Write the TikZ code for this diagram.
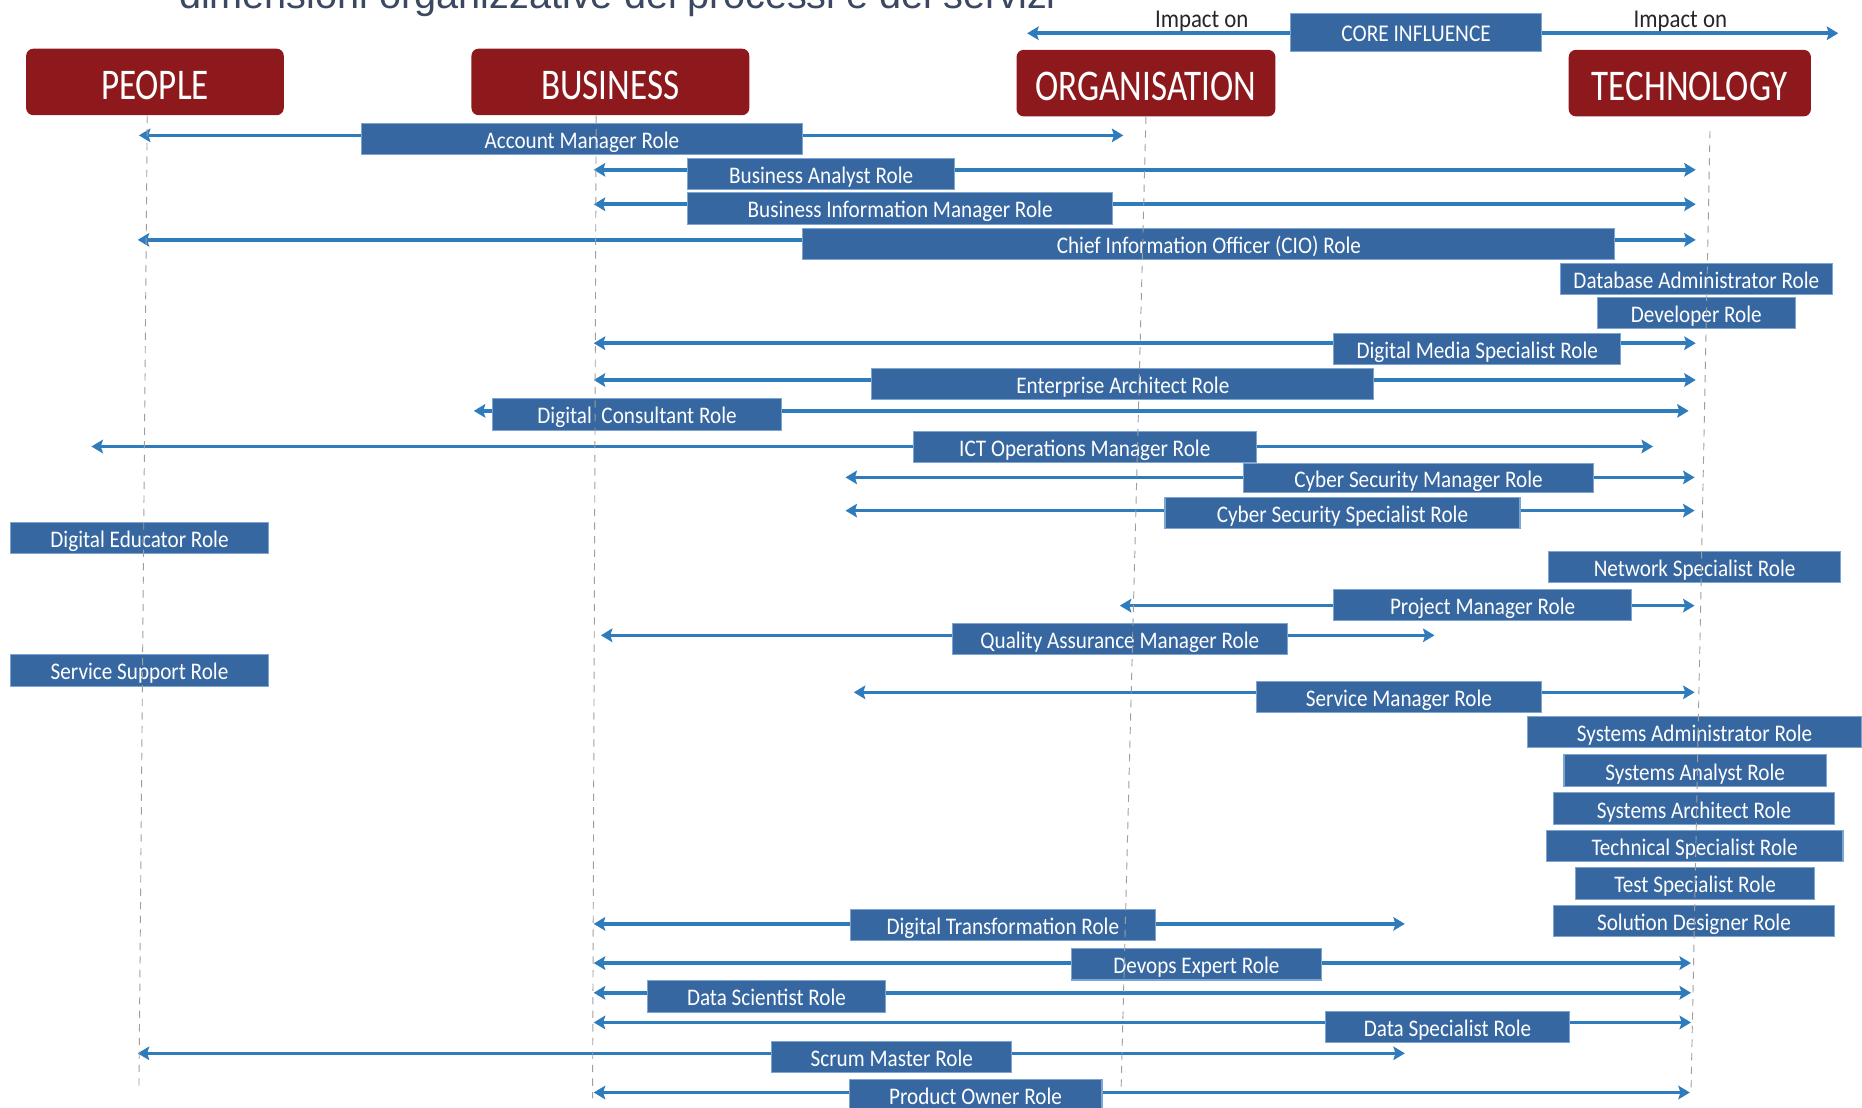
\documentclass[tikz,border=0pt]{standalone}
\usepackage{fontspec}
\setmainfont{Carlito}[FakeStretch=0.89]
\newfontfamily\headfont{Carlito}[FakeStretch=0.8]
\newfontfamily\titlefont{Liberation Sans}
\usepackage{tikz}
\usetikzlibrary{shapes.geometric, arrows.meta}
\definecolor{headred}{RGB}{142,25,28}
\definecolor{rolefill}{RGB}{55,103,161}
\definecolor{roleedge}{RGB}{125,165,210}
\definecolor{arrowblue}{RGB}{47,124,189}
\definecolor{titlegray}{RGB}{59,72,98}
\tikzstyle{dimension} = [rectangle, rounded corners=0.12cm, minimum height=1.12cm, text centered, text height=17pt, text depth=0pt, fill=headred, text=white, font=\headfont\fontsize{21}{22}\selectfont]
\tikzstyle{role} = [rectangle, minimum height=0.53cm, inner sep=0pt, text centered, text height=9pt, text depth=0pt, draw=roleedge, line width=0.5pt, fill=rolefill, text=white, font=\fontsize{11.4}{13}\selectfont]
\tikzstyle{arrow} = [line width=1.7pt, draw=arrowblue, -{Stealth[length=5.5pt, width=6.5pt, inset=1pt]}]
\tikzstyle{lifeline} = [draw=gray!75, line width=0.45pt, dash pattern=on 3.5pt off 3pt]
\tikzstyle{impact} = [text=black!85, text height=9pt, text depth=0pt, font=\fontsize{12.3}{14}\selectfont]

\begin{document}
\begin{tikzpicture}[x=0.02cm, y=-0.02cm]
		\clip (0,0) rectangle (1568,933);
		\node (title) [anchor=base, text=titlegray, font=\titlefont\fontsize{19}{22}\selectfont] at (520,7) {dimensioni organizzative dei processi e dei servizi};
		% dimensions
		\node (people) [dimension, minimum width=4.34cm] at (130.5,69) {PEOPLE};
		\node (business) [dimension, minimum width=4.68cm] at (514,69) {BUSINESS};
		\node (organisation) [dimension, minimum width=4.36cm] at (965,70) {ORGANISATION};
		\node (technology) [dimension, minimum width=4.08cm] at (1423,70) {TECHNOLOGY};
		% core influence
		\node (core) [role, minimum width=4.22cm, minimum height=0.64cm, font=\fontsize{11.5}{13}\selectfont] at (1192.5,27) {CORE INFLUENCE};
		\node (impL) [impact] at (1012,15) {Impact on};
		\node (impR) [impact] at (1415,15) {Impact on};
		\coordinate (coreL) at (865,28);
		\coordinate (coreR) at (1548,28);
		\draw [arrow] (core.west |- coreL) -- (coreL);
		\draw [arrow] (core.east |- coreR) -- (coreR);
		% roles
		\node (acc) [role, minimum width=7.44cm] at (490,117) {Account Manager Role};
		\node (ba) [role, minimum width=4.50cm] at (691.5,146.5) {Business Analyst Role};
		\node (bim) [role, minimum width=7.16cm] at (758,175.5) {Business Information Manager Role};
		\node (cio) [role, minimum width=13.68cm] at (1018,205.5) {Chief Information Officer (CIO) Role};
		\node (dba) [role, minimum width=4.58cm] at (1428.5,235) {Database Administrator Role};
		\node (dev) [role, minimum width=3.34cm] at (1428.5,263.5) {Developer Role};
		\node (dms) [role, minimum width=4.84cm] at (1244,294) {Digital Media Specialist Role};
		\node (ea) [role, minimum width=8.46cm] at (945.5,323.5) {Enterprise Architect Role};
		\node (dc) [role, minimum width=4.86cm] at (536.5,349) {Digital\ \ Consultant Role};
		\node (ict) [role, minimum width=5.78cm] at (913.5,376.5) {ICT Operations Manager Role};
		\node (csm) [role, minimum width=5.90cm, minimum height=0.48cm] at (1194.5,402.5) {Cyber Security Manager Role};
		\node (css) [role, minimum width=5.98cm] at (1130.5,432) {Cyber Security Specialist Role};
		\node (de) [role, minimum width=4.34cm] at (117.5,453) {Digital Educator Role};
		\node (ns) [role, minimum width=4.92cm] at (1427,477.5) {Network Specialist Role};
		\node (pm) [role, minimum width=5.02cm] at (1248.5,509.5) {Project Manager Role};
		\node (qam) [role, minimum width=5.64cm] at (943,538) {Quality Assurance Manager Role};
		\node (ss) [role, minimum width=4.34cm] at (117.5,564.5) {Service Support Role};
		\node (sm) [role, minimum width=4.80cm] at (1178,587) {Service Manager Role};
		\node (sa) [role, minimum width=5.64cm] at (1427,616.5) {Systems Administrator Role};
		\node (san) [role, minimum width=4.42cm] at (1427.5,649) {Systems Analyst Role};
		\node (sar) [role, minimum width=4.74cm] at (1426.5,681) {Systems Architect Role};
		\node (ts) [role, minimum width=5.00cm] at (1427,712.5) {Technical Specialist Role};
		\node (tst) [role, minimum width=4.02cm] at (1427.5,744) {Test Specialist Role};
		\node (sd) [role, minimum width=4.74cm] at (1426.5,775.5) {Solution Designer Role};
		\node (dt) [role, minimum width=5.14cm] at (844.5,779) {Digital Transformation Role};
		\node (doe) [role, minimum width=4.22cm] at (1007.5,812) {Devops Expert Role};
		\node (dsc) [role, minimum width=4.02cm] at (645.5,839) {Data Scientist Role};
		\node (dsp) [role, minimum width=4.12cm] at (1219,865) {Data Specialist Role};
		\node (scm) [role, minimum width=4.04cm] at (751,890) {Scrum Master Role};
		\node (po) [role, minimum width=4.26cm] at (821.5,922) {Product Owner Role};
		% impact ends
		\coordinate (accL) at (117,114);  \coordinate (accR) at (946,114);
		\coordinate (baL) at (500,143);   \coordinate (baR) at (1428,143);
		\coordinate (bimL) at (500,172);  \coordinate (bimR) at (1428,172);
		\coordinate (cioL) at (116,202);  \coordinate (cioR) at (1428,202);
		\coordinate (dmsL) at (500,289);  \coordinate (dmsR) at (1428,289);
		\coordinate (eaL) at (500,320);   \coordinate (eaR) at (1428,320);
		\coordinate (dcL) at (399,346);   \coordinate (dcR) at (1422,346);
		\coordinate (ictL) at (77,376);   \coordinate (ictR) at (1392,376);
		\coordinate (csmL) at (712,402);  \coordinate (csmR) at (1427,402);
		\coordinate (cssL) at (712,430);  \coordinate (cssR) at (1427,430);
		\coordinate (pmL) at (943,510);   \coordinate (pmR) at (1427,510);
		\coordinate (qamL) at (506,535);  \coordinate (qamR) at (1208,535);
		\coordinate (smL) at (719,583);   \coordinate (smR) at (1427,583);
		\coordinate (dtL) at (500,778);   \coordinate (dtR) at (1183,778);
		\coordinate (doeL) at (500,811);  \coordinate (doeR) at (1424,811);
		\coordinate (dscL) at (500,836);  \coordinate (dscR) at (1424,836);
		\coordinate (dspL) at (500,861);  \coordinate (dspR) at (1424,861);
		\coordinate (scmL) at (116,887);  \coordinate (scmR) at (1183,887);
		\coordinate (poL) at (500,920);   \coordinate (poR) at (1423,920);
		\foreach \r in {acc,ba,bim,cio,dms,ea,dc,ict,csm,css,pm,qam,sm,dt,doe,dsc,dsp,scm,po}
		{
			\draw [arrow] (\r.west |- \r L) -- (\r L);
			\draw [arrow] (\r.east |- \r R) -- (\r R);
		}
		% dimension lines
		\coordinate (peopleEnd) at (117,918);
		\coordinate (businessEnd) at (499,925);
		\coordinate (organisationEnd) at (944,920);
		\coordinate (technologyEnd) at (1424,920);
		\draw [lifeline] ([xshift=-0.13cm]people.south) -- (peopleEnd);
		\draw [lifeline] ([xshift=-0.24cm]business.south) -- (businessEnd);
		\draw [lifeline] (organisation.south) -- (organisationEnd);
		\draw [lifeline] ([xshift=0.34cm, yshift=-0.24cm]technology.south) -- (technologyEnd);
\end{tikzpicture}
\end{document}
